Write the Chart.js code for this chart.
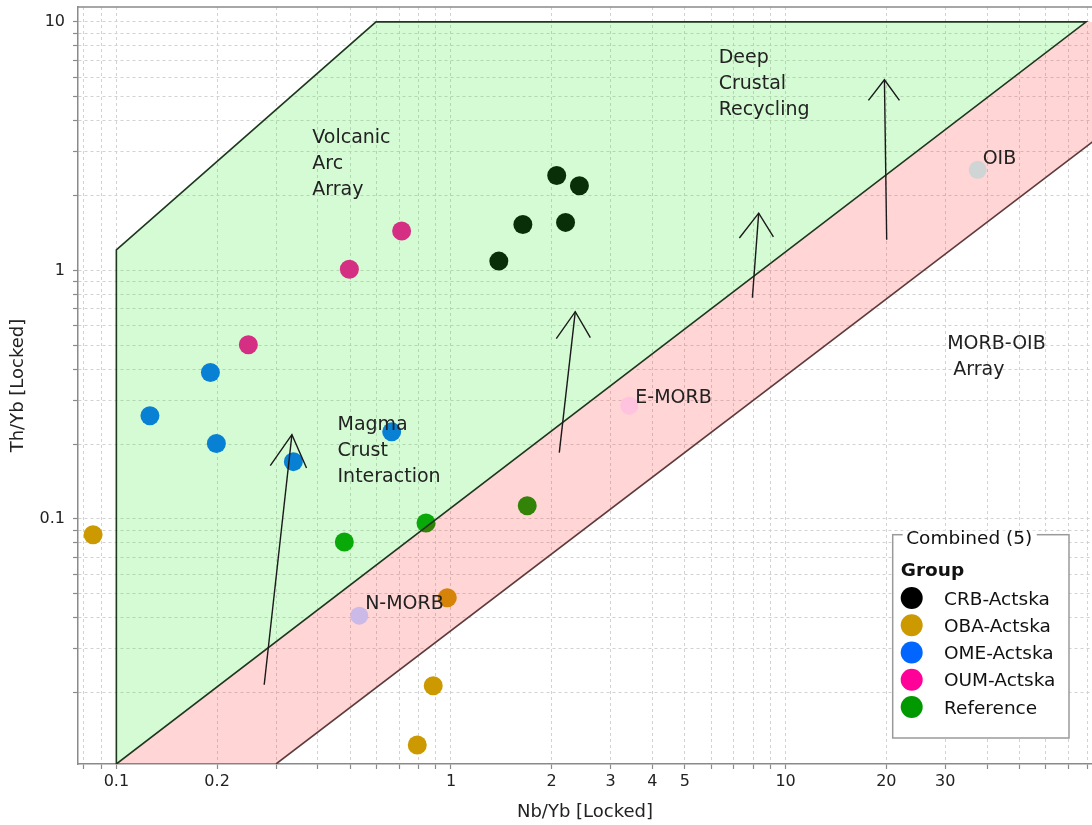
<!DOCTYPE html>
<html>
<head>
<meta charset="utf-8">
<title>Th/Yb vs Nb/Yb</title>
<script src="https://cdn.jsdelivr.net/npm/chart.js@4.4.1/dist/chart.umd.min.js"></script>
<style>
  html, body { margin: 0; padding: 0; background: #ffffff; }
  #wrap { width: 1092px; height: 825px; }
</style>
</head>
<body>
<div id="wrap"><canvas id="c" width="1092" height="825"></canvas></div>
<script>
// ---- axis ranges and labelled ticks ----
const X_RANGE = [0.0768, 82.35];
const Y_RANGE = [0.01032, 11.48];
const X_TICK_LABELS = [0.1, 0.2, 1, 2, 3, 4, 5, 10, 20, 30];
const Y_TICK_LABELS = [0.1, 1, 10];

// ---- sample groups ----
const GROUPS = ['CRB-Actska', 'OBA-Actska', 'OME-Actska', 'OUM-Actska', 'Reference'];
const GROUP_COLORS = ['#000000', '#cc9900', '#0066ff', '#ff0099', '#009900'];

const CRB_NB_YB = [2.07, 2.42, 1.64, 2.20, 1.39];
const CRB_TH_YB = [2.41, 2.19, 1.53, 1.56, 1.09];
const OBA_NB_YB = [0.0852, 0.975, 0.885, 0.793];
const OBA_TH_YB = [0.0864, 0.0482, 0.0213, 0.0123];
const OME_NB_YB = [0.126, 0.191, 0.199, 0.338, 0.665];
const OME_TH_YB = [0.260, 0.388, 0.201, 0.170, 0.224];
const OUM_NB_YB = [0.248, 0.497, 0.712];
const OUM_TH_YB = [0.502, 1.01, 1.44];
const REF_NB_YB = [0.480, 0.842, 1.69];
const REF_TH_YB = [0.0807, 0.0963, 0.113];

// ---- mantle / basalt reference compositions ----
const MODEL_NAMES = ['OIB', 'E-MORB', 'N-MORB'];
const MODEL_NB_YB = [37.5, 3.41, 0.532];
const MODEL_TH_YB = [2.54, 0.2855, 0.0408];
const MODEL_COLORS = ['#cfd4d4', '#ffc2df', '#cbb9e8'];

// ---- field outlines (Nb/Yb, Th/Yb vertices) ----
const ARC_FIELD_NB = [0.1, 0.1, 0.597, 79.1, 0.1];
const ARC_FIELD_TH = [0.01032, 1.21, 10, 10, 0.01032];
const ARRAY_BAND_NB = [0.1, 79.1, 100, 100, 0.30, 0.1];
const ARRAY_BAND_TH = [0.01032, 10, 10, 4.0, 0.01032, 0.01032];
const ARRAY_LOWER_NB = [0.30, 100];
const ARRAY_LOWER_TH = [0.01032, 4.0];

// ---- process vectors ----
const ARROW_TAIL_NB = [0.2766, 2.107, 7.957, 20.05];
const ARROW_TAIL_TH = [0.0215, 0.1847, 0.776, 1.329];
const ARROW_TIP_NB = [0.3347, 2.352, 8.31, 19.74];
const ARROW_TIP_TH = [0.2183, 0.682, 1.70, 5.85];
const ARROW_BARB_L_NB = [0.2884, 2.064, 7.275, 17.68];
const ARROW_BARB_L_TH = [0.1637, 0.531, 1.35, 4.83];
const ARROW_BARB_R_NB = [0.3701, 2.609, 9.195, 21.89];
const ARROW_BARB_R_TH = [0.1603, 0.536, 1.363, 4.83];

// ---- field names (anchored in data space: left edge, first baseline) ----
const FIELD_LABELS = [
  { lines: ['Volcanic', 'Arc', 'Array'], x: 0.385, y: 3.27 },
  { lines: ['Deep', 'Crustal', 'Recycling'], x: 6.31, y: 6.83 },
  { lines: ['Magma', 'Crust', 'Interaction'], x: 0.458, y: 0.2286 },
  { lines: ['MORB-OIB', ' Array'], x: 30.4, y: 0.483 }
];
const MODEL_LABEL_NB = [38.8, 3.556, 0.554];
const MODEL_LABEL_TH = [2.69, 0.2935, 0.0434];

const FONT = 'DejaVu Sans';

function pts(xs, ys) { return xs.map((x, i) => ({ x: x, y: ys[i] })); }

function gridValues(lo, hi) {
  const out = [];
  for (let e = Math.floor(Math.log10(lo)); e <= Math.ceil(Math.log10(hi)); e++) {
    for (let m = 1; m <= 9; m++) {
      const v = Number((m * Math.pow(10, e)).toPrecision(6));
      if (v >= lo && v <= hi) out.push(v);
    }
  }
  return out;
}

const sampleSeries = [
  [CRB_NB_YB, CRB_TH_YB], [OBA_NB_YB, OBA_TH_YB], [OME_NB_YB, OME_TH_YB],
  [OUM_NB_YB, OUM_TH_YB], [REF_NB_YB, REF_TH_YB]
];

const datasets = [];

// sample points sit underneath the translucent fields
sampleSeries.forEach((s, i) => {
  datasets.push({
    label: GROUPS[i], isGroup: true,
    data: pts(s[0], s[1]), showLine: false,
    pointRadius: 9.5, pointHoverRadius: 9.5, pointBorderWidth: 0,
    pointBackgroundColor: GROUP_COLORS[i], backgroundColor: GROUP_COLORS[i],
    order: 20
  });
});

// MORB-OIB array band
datasets.push({
  label: 'MORB-OIB array', data: pts(ARRAY_BAND_NB, ARRAY_BAND_TH),
  fill: 'shape', backgroundColor: 'rgba(255,45,45,0.2)', borderWidth: 0,
  pointRadius: 0, tension: 0, order: 9
});
// volcanic arc field
datasets.push({
  label: 'Volcanic arc array', data: pts(ARC_FIELD_NB, ARC_FIELD_TH),
  fill: 'shape', backgroundColor: 'rgba(40,235,40,0.2)',
  borderColor: '#1f361f', borderWidth: 1.6,
  pointRadius: 0, tension: 0, order: 8
});
// lower limit of the array
datasets.push({
  label: 'Array lower limit', data: pts(ARRAY_LOWER_NB, ARRAY_LOWER_TH),
  fill: false, borderColor: '#5e3a3a', borderWidth: 1.6,
  pointRadius: 0, tension: 0, order: 7
});
// vectors: shaft + barbs
ARROW_TAIL_NB.forEach((_, i) => {
  datasets.push({
    label: 'vector', data: [
      { x: ARROW_TAIL_NB[i], y: ARROW_TAIL_TH[i] },
      { x: ARROW_TIP_NB[i], y: ARROW_TIP_TH[i] }
    ],
    fill: false, borderColor: '#1a1a1a', borderWidth: 1.4, pointRadius: 0, order: 6
  });
  datasets.push({
    label: 'vector head', data: [
      { x: ARROW_BARB_L_NB[i], y: ARROW_BARB_L_TH[i] },
      { x: ARROW_TIP_NB[i], y: ARROW_TIP_TH[i] },
      { x: ARROW_BARB_R_NB[i], y: ARROW_BARB_R_TH[i] }
    ],
    fill: false, borderColor: '#1a1a1a', borderWidth: 1.4, borderJoinStyle: 'miter',
    pointRadius: 0, order: 6
  });
});
// reference compositions on top
datasets.push({
  label: 'models', data: pts(MODEL_NB_YB, MODEL_TH_YB), showLine: false,
  pointRadius: 9, pointHoverRadius: 9, pointBorderWidth: 0,
  pointBackgroundColor: MODEL_COLORS, order: 1
});

// frame line along the top of the plot
const frame = {
  id: 'frame',
  beforeDatasetsDraw(chart) {
    const { ctx, chartArea: a } = chart;
    ctx.save();
    ctx.strokeStyle = '#8a8a8a';
    ctx.lineWidth = 1.5;
    ctx.beginPath();
    ctx.moveTo(a.left, a.top);
    ctx.lineTo(a.right, a.top);
    ctx.stroke();
    ctx.restore();
  }
};

// field names and model labels
const fieldText = {
  id: 'fieldText',
  afterDatasetsDraw(chart) {
    const { ctx } = chart;
    const xs = chart.scales.x, ys = chart.scales.y;
    ctx.save();
    ctx.fillStyle = '#222222';
    ctx.font = '19px "' + FONT + '"';
    ctx.textBaseline = 'alphabetic';
    ctx.textAlign = 'left';
    FIELD_LABELS.forEach(l => {
      const px = xs.getPixelForValue(l.x), py = ys.getPixelForValue(l.y);
      l.lines.forEach((t, k) => ctx.fillText(t, px, py + k * 26));
    });
    MODEL_NAMES.forEach((n, i) => {
      ctx.fillText(n, xs.getPixelForValue(MODEL_LABEL_NB[i]), ys.getPixelForValue(MODEL_LABEL_TH[i]));
    });
    ctx.restore();
  }
};

// group legend box in the lower right of the plot
const groupLegend = {
  id: 'groupLegend',
  afterDraw(chart) {
    const { ctx, chartArea: a } = chart;
    const groups = chart.data.datasets.filter(d => d.isGroup);
    const x0 = a.right - 199.3, y0 = a.bottom - 229.3, w = 176.3, h = 203.3;
    ctx.save();
    ctx.fillStyle = '#ffffff';
    ctx.fillRect(x0, y0, w, h);
    ctx.strokeStyle = '#9a9a9a';
    ctx.lineWidth = 1.5;
    ctx.strokeRect(x0, y0, w, h);
    ctx.font = '18.5px "' + FONT + '"';
    const title = 'Combined (' + groups.length + ')';
    const tw = ctx.measureText(title).width;
    ctx.fillStyle = '#ffffff';
    ctx.fillRect(x0 + 10, y0 - 4, tw + 8, 8);
    ctx.fillStyle = '#111111';
    ctx.textBaseline = 'alphabetic';
    ctx.fillText(title, x0 + 13.5, y0 + 9);
    ctx.font = 'bold 18.5px "' + FONT + '"';
    ctx.fillText('Group', x0 + 8, y0 + 41.7);
    ctx.font = '18.5px "' + FONT + '"';
    groups.forEach((d, i) => {
      const cy = y0 + 63.3 + i * 27.25;
      ctx.fillStyle = d.pointBackgroundColor;
      ctx.beginPath();
      ctx.arc(x0 + 19, cy, 11, 0, Math.PI * 2);
      ctx.fill();
      ctx.fillStyle = '#111111';
      ctx.fillText(d.label, x0 + 51.3, y0 + 70 + i * 27.25);
    });
    ctx.restore();
  }
};

Chart.defaults.font.family = FONT;
Chart.defaults.color = '#222222';

const xGrid = gridValues(0.08, 80);
const yGrid = gridValues(0.02, 10);

new Chart(document.getElementById('c'), {
  type: 'line',
  data: { datasets: datasets },
  options: {
    responsive: false,
    animation: false,
    events: [],
    layout: { autoPadding: false, padding: { top: 7, left: 0, right: 0, bottom: 0 } },
    plugins: {
      legend: { display: false },
      tooltip: { enabled: false },
      filler: { drawTime: 'beforeDatasetDraw' }
    },
    scales: {
      x: {
        type: 'logarithmic',
        min: X_RANGE[0], max: X_RANGE[1],
        afterBuildTicks: s => { s.ticks = xGrid.map(v => ({ value: v })); },
        afterFit: s => { s.height = 61; s.paddingLeft = 0; s.paddingRight = 0; },
        ticks: {
          autoSkip: false, maxRotation: 0, padding: 3,
          font: { size: 16 }, color: '#222222',
          callback: v => X_TICK_LABELS.includes(v) ? String(v) : ''
        },
        grid: { color: '#d2d2d2', lineWidth: 1, tickLength: 5, tickColor: '#8a8a8a', tickWidth: 1.2, tickBorderDash: [] },
        border: { color: '#8a8a8a', width: 1.5, dash: [3, 3] },
        title: { display: true, text: 'Nb/Yb [Locked]', font: { size: 18 }, color: '#222222', padding: { top: 0, bottom: 2 } }
      },
      y: {
        type: 'logarithmic',
        min: Y_RANGE[0], max: Y_RANGE[1],
        afterBuildTicks: s => { s.ticks = yGrid.map(v => ({ value: v })); },
        afterFit: s => { s.width = 78; s.paddingTop = 0; s.paddingBottom = 0; },
        ticks: {
          autoSkip: false, padding: 8,
          font: { size: 16 }, color: '#222222',
          callback: v => Y_TICK_LABELS.includes(v) ? String(v) : ''
        },
        grid: { color: '#d2d2d2', lineWidth: 1, tickLength: 5, tickColor: '#8a8a8a', tickWidth: 1.2, tickBorderDash: [] },
        border: { color: '#8a8a8a', width: 1.5, dash: [3, 3] },
        title: { display: true, text: 'Th/Yb [Locked]', font: { size: 18 }, color: '#222222', padding: { top: 8, bottom: 0 } }
      }
    }
  },
  plugins: [frame, fieldText, groupLegend]
});
</script>
</body>
</html>
